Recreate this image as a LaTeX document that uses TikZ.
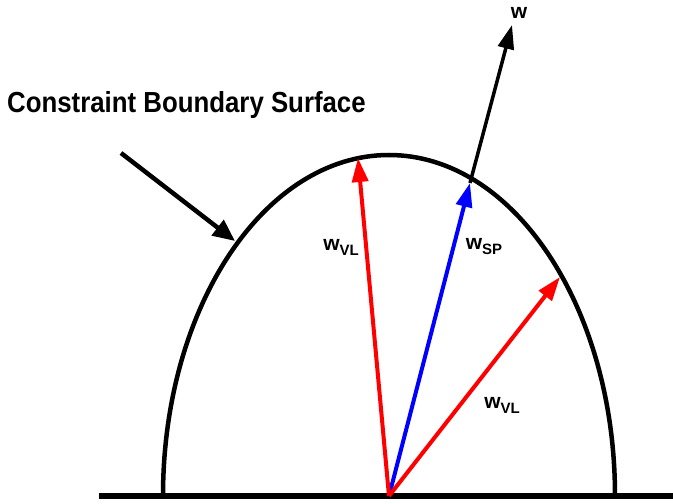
\documentclass[tikz,border=0pt]{standalone}
\usepackage{fontspec}
\setmainfont{Liberation Sans}
\newfontfamily\narrowfont[FakeStretch=0.89]{Liberation Sans}
\usepackage{tikz}
\usetikzlibrary{arrows.meta}

\tikzset{
  vecarrow/.style={line width=4pt, -{Triangle[length=24pt,width=16pt]}},
  veclabel/.style={font=\fontsize{21}{24}\selectfont\bfseries, inner sep=0pt},
}
\newcommand{\wsub}[1]{w\raisebox{-5pt}{\fontsize{15}{15}\selectfont #1}}

\begin{document}
\begin{tikzpicture}[x=1pt, y=1pt]
        \useasboundingbox (0,0) rectangle (673,504);
        % ground and boundary surface
        \draw[line width=6pt] (99,8) -- (673,8);
        \draw[line width=4.5pt] (163,8) arc[start angle=180, end angle=0, x radius=226, y radius=341];

        \coordinate (origin) at (389,8);
        \coordinate (vlLeft) at (358,346);
        \coordinate (vlRight) at (560,227);
        \coordinate (spTip) at (470,321);
        \coordinate (wTip) at (512,479);
        \coordinate (pointStart) at (121,351);
        \coordinate (pointEnd) at (235,263);

        \draw[black, line width=3.5pt, -{Triangle[length=24pt,width=16pt]}] (spTip) -- (wTip);
        \draw[vecarrow, blue] (origin) -- (spTip);
        \draw[vecarrow, red] (origin) -- (vlLeft);
        \draw[vecarrow, red] (origin) -- (vlRight);
        \draw[line width=4.5pt, -{Triangle[length=22pt,width=19pt]}] (pointStart) -- (pointEnd);

        \node[anchor=base west, inner sep=0pt, font=\narrowfont\fontsize{29}{34}\selectfont\bfseries] (title) at (7,391) {Constraint Boundary Surface};
        \node[veclabel] (wLabel) at (519,491) {w};
        \node[veclabel] (vlLeftLabel) at (341,257) {\wsub{VL}};
        \node[veclabel] (spLabel) at (484,257) {\wsub{SP}};
        \node[veclabel] (vlRightLabel) at (502,99) {\wsub{VL}};
    \end{tikzpicture}
\end{document}
